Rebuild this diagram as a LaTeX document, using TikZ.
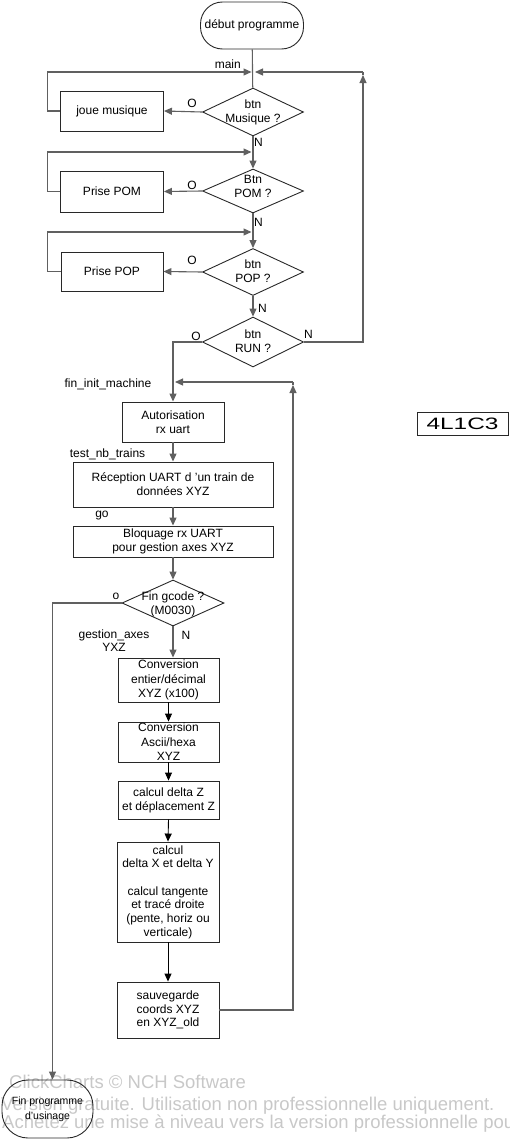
\documentclass[tikz,border=0pt]{standalone}
\usepackage{fontspec}
\setmainfont{Liberation Sans}
\usepackage{graphicx}
\usetikzlibrary{arrows.meta,shapes.geometric}
\definecolor{conn}{RGB}{96,96,96}
\definecolor{edgec}{RGB}{40,40,40}
\definecolor{wm}{RGB}{200,200,200}
\begin{document}
\begin{tikzpicture}[x=1pt,y=-1pt,
  every node/.style={font=\fontsize{12}{13.8}\selectfont, inner sep=0pt, align=center},
  box/.style={draw=edgec, line width=0.9pt, rectangle},
  dia/.style={draw=edgec, line width=0.9pt, diamond},
  termbox/.style={draw=edgec, line width=0.9pt, rectangle},
  conn/.style={draw=conn, line width=1.1pt, -{Triangle[length=8pt,width=7pt]}},
  plainline/.style={draw=conn, line width=1.1pt},
  blk/.style={draw=black, line width=0.9pt, -{Triangle[length=8pt,width=7pt]}},
  wmtext/.style={text=wm, font=\fontsize{18.5}{21}\selectfont, anchor=base west, align=left},
]
\useasboundingbox (0,0) rectangle (509,1140);

% watermark
\node[wmtext] (wm1) at (9,1088) {ClickCharts © NCH Software};
\node[wmtext] (wm2) at (1,1110) {Version gratuite. Utilisation non professionnelle uniquement.};
\node[wmtext] (wm3) at (2,1128) {Achetez une mise à niveau vers la version professionnelle pou};

% terminators
\node[termbox, rounded corners=22pt, minimum width=103pt, minimum height=47pt] (start) at (252,25.5) {début programme};
\node[termbox, rounded corners=26pt, minimum width=91pt, minimum height=58pt, font=\fontsize{10.5}{15}\selectfont] (fin) at (47.5,1109) {Fin programme\\d'usinage};

% decisions
\node[dia, minimum width=101pt, minimum height=48pt] (d1) at (253,112) {};
\node (d1t) at (253,112.5) {btn\\Musique ?};
\node[dia, minimum width=101pt, minimum height=44pt] (d2) at (253,191) {};
\node (d2t) at (253,186.5) {Btn\\POM ?};
\node[dia, minimum width=101pt, minimum height=47pt] (d3) at (253,272) {};
\node (d3t) at (253,271.5) {btn\\POP ?};
\node[dia, minimum width=101pt, minimum height=50pt] (d4) at (253,342) {};
\node (d4t) at (253,341.5) {btn\\RUN ?};
\node[dia, minimum width=102pt, minimum height=46pt] (d5) at (173,603) {};
\node (d5t) at (173,604) {Fin gcode ?\\(M0030)};

% process boxes
\node[box, minimum width=103pt, minimum height=40pt] (jm) at (112,111) {joue musique};
\node[box, minimum width=103pt, minimum height=41pt] (pom) at (112,191.5) {Prise POM};
\node[box, minimum width=102pt, minimum height=39pt] (pop) at (112,271.5) {Prise POP};
\node[box, minimum width=102pt, minimum height=40pt] (aut) at (173,422) {Autorisation\\rx uart};
\node[box, minimum width=200pt, minimum height=45pt] (rec) at (173,484.5) {Réception UART d 'un train de\\données XYZ};
\node[box, minimum width=200pt, minimum height=31pt] (blo) at (173,541.5) {Bloquage rx UART\\pour gestion axes XYZ};
\node[box, minimum width=101pt, minimum height=44pt, font=\fontsize{12}{14.5}\selectfont] (cv1) at (168.5,680) {Conversion\\entier/décimal\\XYZ (x100)};
\node[box, minimum width=101pt, minimum height=40pt, font=\fontsize{12}{14.5}\selectfont] (cv2) at (168.5,742) {Conversion\\Ascii/hexa\\XYZ};
\node[box, minimum width=101pt, minimum height=38pt] (dz) at (168.5,800) {calcul delta Z\\et déplacement Z};
\node[box, minimum width=102pt, minimum height=100pt, font=\fontsize{12}{13.7}\selectfont] (dxy) at (168,892) {calcul\\delta X et delta Y\\[13.7pt]calcul tangente\\et tracé droite\\(pente, horiz ou\\verticale)};
\node[box, minimum width=102pt, minimum height=56pt] (sav) at (168,1010) {sauvegarde\\coords XYZ\\en XYZ\_old};
\node[box, minimum width=91pt, minimum height=23pt] (tag) at (462.5,423.5) {\fontsize{16.5}{18}\selectfont\scalebox{1.48}[1]{4L1C3}};

% labels
\node[anchor=east] (lmain) at (241,64) {main};
\node (o1) at (192,103) {O};
\node (o2) at (192,185) {O};
\node (o3) at (192,260) {O};
\node (o4) at (196,336) {O};
\node[anchor=west] (n1) at (254,142) {N};
\node[anchor=west] (n2) at (254,222) {N};
\node[anchor=west] (n3) at (258,308) {N};
\node[anchor=west] (n4) at (304,334) {N};
\node (lfim) at (108,384) {fin\_init\_machine};
\node (ltnb) at (107.5,454) {test\_nb\_trains};
\node (lgo) at (102,516) {go};
\node (o5) at (116,596) {o};
\node (n5) at (186,635) {N};
\node[font=\fontsize{12}{13}\selectfont] (lga) at (114,641) {gestion\_axes\\YXZ};

% junction coordinates
\coordinate (m1) at (253,72);
\coordinate (m2) at (253,152);
\coordinate (m3) at (253,232);
\coordinate (r1) at (363,72);
\coordinate (r1b) at (363,75);
\coordinate (m4) at (173,382);
\coordinate (r2) at (293,382);
\coordinate (r2b) at (293,385);

% connectors top
\draw[plainline] (start) -- (d1);
\draw[conn, shorten >=1.5pt] (jm.west) -- ++(-13,0) |- (m1);
\draw[conn, shorten >=2pt] (r1) -- (m1);
\draw[conn] (d4.east) -| (r1b);
\draw[plainline] (r1b) -- (r1);
\draw[conn] (d1.west) -- (jm.east);
\draw[conn] (d1.south) -- (d2.north);
\draw[conn, shorten >=1.5pt] (pom.west) -- ++(-13,0) |- (m2);
\draw[conn] (d2.west) -- (pom.east);
\draw[conn] (d2.south) -- (d3.north);
\draw[conn, shorten >=1.5pt] (pop.west) -- ++(-13,0) |- (m3);
\draw[conn] (d3.west) -- (pop.east);
\draw[conn] (d3.south) -- (d4.north);

% connectors bottom
\draw[conn] (d4.west) -| (aut.north);
\draw[conn] (sav.east) -| (r2b);
\draw[plainline] (r2b) -- (r2);
\draw[conn, shorten >=2pt] (r2) -- (m4);
\draw[conn] (aut.south) -- (rec.north);
\draw[conn] (rec.south) -- (blo.north);
\draw[conn] (blo.south) -- (d5.north);
\draw[conn] (d5.west) -| ([xshift=5pt]fin.north);
\draw[conn] (d5.south) -- (d5.south |- cv1.north);
\draw[blk] (cv1.south) -- (cv2.north);
\draw[blk] (cv2.south) -- (dz.north);
\draw[blk] (dz.south) -- (dxy.north);
\draw[blk] (dxy.south) -- (sav.north);
\end{tikzpicture}
\end{document}
